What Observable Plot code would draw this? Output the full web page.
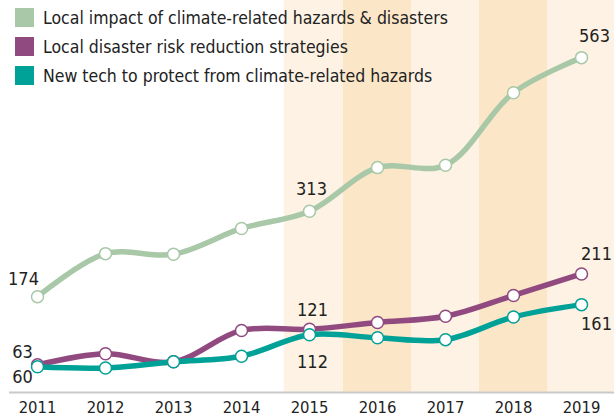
<!DOCTYPE html>
<html>
<head>
<meta charset="utf-8">
<script src="https://cdn.jsdelivr.net/npm/d3@7"></script>
<script src="https://cdn.jsdelivr.net/npm/@observablehq/plot@0.6"></script>
<style>
  html, body { margin: 0; padding: 0; background: #fff; }
  #wrap { position: relative; width: 614px; height: 418px; overflow: hidden;
    font-family: "Liberation Sans Narrow", "DejaVu Sans Condensed", "Arial Narrow", sans-serif; }
  #legend { position: absolute; left: 15px; top: 8px; }
  .row { display: flex; align-items: center; height: 29px; }
  .sw { width: 19px; height: 19px; margin-right: 9px; margin-top: -10px; }
  .lbl { font-size: 17.5px; color: #222; margin-top: -10px; white-space: nowrap; }
</style>
</head>
<body>
<div id="wrap"><div id="chart"></div><div id="legend"></div></div>
<script>
const years = [2011, 2012, 2013, 2014, 2015, 2016, 2017, 2018, 2019];
const seriesNames = [
  "Local impact of climate-related hazards & disasters",
  "Local disaster risk reduction strategies",
  "New tech to protect from climate-related hazards"
];
const impact     = [174, 244, 243, 285, 313, 384, 388, 506, 563];
const strategies = [63, 81, 68, 119, 121, 132, 142, 176, 211];
const tech       = [60, 58, 68, 77, 112, 107, 104, 141, 161];
const labelYears = [2011, 2015, 2019];
// shaded year bands (start, end in year units) and their shade
const bandStart = [2014.63, 2015.5, 2016.5, 2017.5, 2018.5];
const bandEnd   = [2015.5, 2016.5, 2017.5, 2018.5, 2019.5];
const bandShade = ["light", "dark", "light", "dark", "light"];

const colors = ["#a8c8a8", "#904a80", "#00a197"];
const shadeColors = {light: "#fdf2e3", dark: "#fce6c8"};
const seriesValues = [impact, strategies, tech];

const rows = [];
seriesValues.forEach((vals, si) => years.forEach((yr, i) => rows.push({series: seriesNames[si], year: yr, value: vals[i]})));
const bands = bandStart.map((s, i) => ({x1: s, x2: bandEnd[i], shade: bandShade[i]}));

// label offsets (style): [dx, dy] per series per labelYear
const offsets = [
  [[-14, -17], [2, -22], [13, -21]],
  [[-15, -13], [3, -19], [15, -20]],
  [[-15, 11], [3, 27], [15, 20]]
];

const marks = [
  Plot.rect(bands, {x1: "x1", x2: "x2", fill: d => shadeColors[d.shade]}),
  Plot.ruleY([18], {stroke: "#c9c9c9", strokeWidth: 2}),
  Plot.axisX({ticks: years, tickSize: 0, tickPadding: 9, tickFormat: d => String(d), fontSize: 16.5, fill: "#222"})
];
seriesNames.forEach((name, si) => {
  const data = rows.filter(r => r.series === name);
  marks.push(Plot.line(data, {x: "year", y: "value", stroke: colors[si], strokeWidth: 5.5, curve: "catmull-rom"}));
});
seriesNames.forEach((name, si) => {
  const data = rows.filter(r => r.series === name);
  marks.push(Plot.dot(data, {x: "year", y: "value", r: 6, fill: "white", stroke: colors[si], strokeWidth: 1.5}));
});
seriesNames.forEach((name, si) => {
  labelYears.forEach((ly, li) => {
    const data = rows.filter(r => r.series === name && r.year === ly);
    marks.push(Plot.text(data, {x: "year", y: "value", text: d => String(d.value), dx: offsets[si][li][0], dy: offsets[si][li][1], fontSize: 18, fill: "#222"}));
  });
});

const chart = Plot.plot({
  width: 614,
  height: 418,
  marginLeft: 9,
  marginRight: 0,
  marginTop: 0,
  marginBottom: 26,
  x: {domain: [2010.588, 2019.485], axis: null},
  y: {domain: [18, 656], axis: null},
  style: {fontFamily: '"Liberation Sans Narrow", "DejaVu Sans Condensed", sans-serif', background: "white", overflow: "visible"},
  marks
});
document.getElementById("chart").appendChild(chart);

const legend = document.getElementById("legend");
seriesNames.forEach((name, si) => {
  const row = document.createElement("div");
  row.className = "row";
  row.innerHTML = `<div class="sw" style="background:${colors[si]}"></div><div class="lbl"></div>`;
  row.querySelector(".lbl").textContent = name;
  legend.appendChild(row);
});
</script>
</body>
</html>
